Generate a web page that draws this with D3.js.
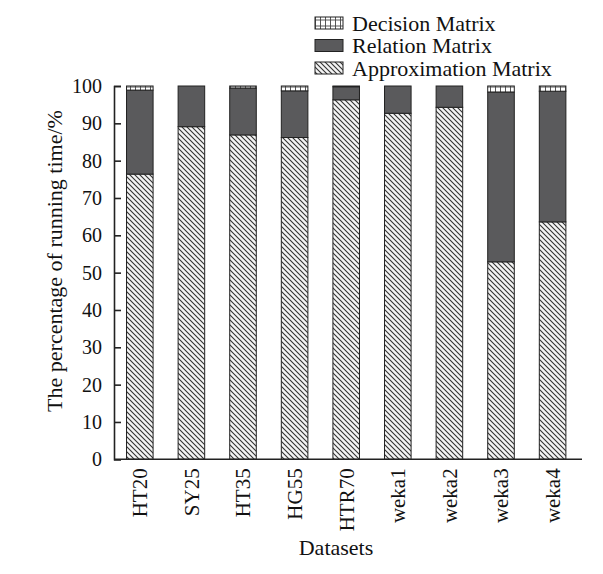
<!DOCTYPE html>
<meta charset="utf-8">
<style>
body { margin: 0; background: #fff; }
text { font-family: 'Liberation Serif', 'DejaVu Serif', serif; fill: #111; }
.ytick text { font-size: 20px; }
.xtick text { font-size: 21px; }
.label { font-size: 22px; }
.legendLabel { font-size: 22px; }
</style>
<body>
<script src="https://d3js.org/d3.v7.min.js"></script>
<script>
    // chart values
    const datasets = ["HT20", "SY25", "HT35", "HG55", "HTR70", "weka1", "weka2", "weka3", "weka4"];
    const approximation = [76.4, 89.1, 86.9, 86.2, 96.3, 92.7, 94.3, 52.9, 63.6];
    const relation = [22.5, 10.9, 12.5, 12.5, 3.5, 7.3, 5.7, 45.5, 35.0];
    const decision = [1.1, 0, 0.6, 1.3, 0.2, 0, 0, 1.6, 1.4];
    const seriesNames = ["Approximation Matrix", "Relation Matrix", "Decision Matrix"];
    const yTicks = [0, 10, 20, 30, 40, 50, 60, 70, 80, 90, 100];

    let width = 603,
        height = 574,
        margin = {left: 114, right: 24.6, top: 86, bottom: 114.7};

    let svg = d3.select("body").append("svg")
        .attr("width", width)
        .attr("height", height);

    // fill patterns
    let defs = svg.append("defs");
    let hatch = defs.append("pattern")
        .attr("id", "hatch")
        .attr("patternUnits", "userSpaceOnUse")
        .attr("width", 5).attr("height", 5);
    hatch.append("rect").attr("width", 5).attr("height", 5).attr("fill", "#f4f4f4");
    hatch.append("path")
        .attr("d", "M-1,-1 L6,6 M-1,4 L1,6 M4,-1 L6,1")
        .attr("stroke", "#333").attr("stroke-width", 1.1);

    let grid = defs.append("pattern")
        .attr("id", "grid")
        .attr("patternUnits", "userSpaceOnUse")
        .attr("width", 5).attr("height", 6);
    grid.append("rect").attr("width", 5).attr("height", 6).attr("fill", "#fff");
    grid.append("path")
        .attr("d", "M0.5,0 V6 M0,3 H5")
        .attr("stroke", "#444").attr("stroke-width", 0.9);

    const fills = {
        "Approximation Matrix": "url(#hatch)",
        "Relation Matrix": "#5a5a5c",
        "Decision Matrix": "url(#grid)"
    };

    let x = d3.scaleBand()
        .domain(datasets)
        .range([margin.left, width - margin.right])
        .paddingInner(0.485)
        .paddingOuter(0.2425);

    let y = d3.scaleLinear()
        .domain([0, 100])
        .range([height - margin.bottom, margin.top]);

    let table = datasets.map((d, i) => ({
        name: d,
        "Approximation Matrix": approximation[i],
        "Relation Matrix": relation[i],
        "Decision Matrix": decision[i]
    }));

    let stack = d3.stack().keys(seriesNames)(table);

    let g = svg.append("g");
    g.selectAll("g.series")
        .data(stack)
        .join("g")
            .attr("class", "series")
            .attr("fill", d => fills[d.key])
        .selectAll("rect")
        .data(d => d.filter(p => p[1] - p[0] > 0))
        .join("rect")
            .attr("x", d => x(d.data.name))
            .attr("y", d => y(d[1]))
            .attr("width", x.bandwidth())
            .attr("height", d => y(d[0]) - y(d[1]))
            .attr("stroke", "#222")
            .attr("stroke-width", 1);

    // y axis, ticks pointing inward
    let yAxis = svg.append("g")
        .attr("class", "ytick")
        .attr("transform", `translate(${margin.left},0)`)
        .call(d3.axisLeft(y).tickValues(yTicks).tickSizeInner(-7).tickSizeOuter(-7).tickPadding(12));
    yAxis.selectAll("line, path").attr("stroke", "#222").attr("stroke-width", 1.6);

    // x axis
    let xAxis = svg.append("g")
        .attr("class", "xtick")
        .attr("transform", `translate(0,${height - margin.bottom})`)
        .call(d3.axisBottom(x).tickSize(0).tickPadding(0));
    xAxis.select(".domain")
        .attr("d", `M${margin.left},0H582`)
        .attr("stroke", "#222").attr("stroke-width", 1.6);
    xAxis.selectAll(".tick text")
        .attr("transform", "rotate(-90)")
        .attr("text-anchor", "end")
        .attr("x", -9)
        .attr("y", 0)
        .attr("dy", "0.35em");

    svg.append("text")
        .attr("class", "label")
        .attr("x", 336)
        .attr("y", 555)
        .attr("text-anchor", "middle")
        .text("Datasets");

    svg.append("text")
        .attr("class", "label")
        .attr("transform", "translate(62,261) rotate(-90)")
        .attr("text-anchor", "middle")
        .text("The percentage of running time/%");

    // legend
    let legendOrder = ["Decision Matrix", "Relation Matrix", "Approximation Matrix"];
    let legend = svg.append("g")
        .attr("transform", "translate(315,17)")
        .selectAll("g")
        .data(legendOrder)
        .join("g")
            .attr("transform", (d, i) => `translate(0,${i * 22.5})`);

    legend.append("rect")
        .attr("width", 28)
        .attr("height", 12)
        .attr("fill", d => fills[d])
        .attr("stroke", "#222");

    legend.append("text")
        .attr("class", "legendLabel")
        .attr("x", 37)
        .attr("y", 6)
        .attr("dy", "0.35em")
        .text(d => d);
</script>
</body>
